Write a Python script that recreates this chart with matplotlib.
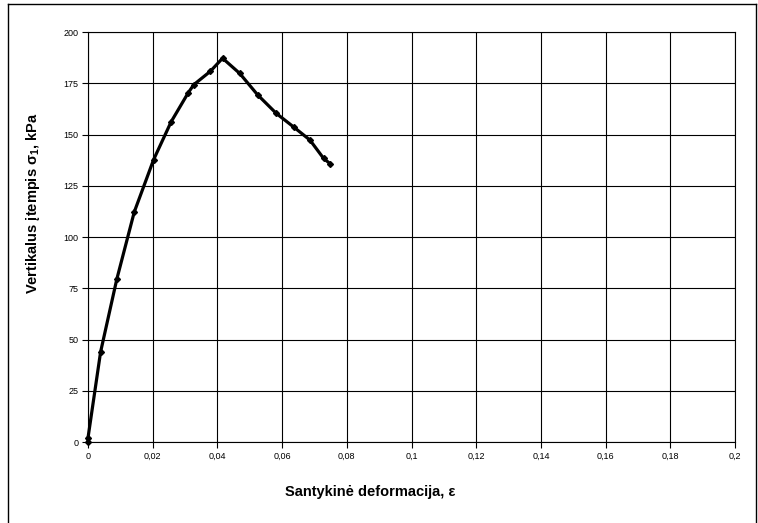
import matplotlib
matplotlib.use("Agg")
import matplotlib.pyplot as plt
from matplotlib.lines import Line2D
from matplotlib.ticker import FuncFormatter

plt.rcParams['font.family'] = ['Liberation Sans', 'DejaVu Sans']
plt.rcParams['mathtext.fontset'] = 'custom'
plt.rcParams['mathtext.rm'] = 'Liberation Sans'
plt.rcParams['mathtext.bf'] = 'Liberation Sans:bold'

strain = [0.0, 0.0, 0.0039, 0.0089, 0.0143, 0.0203, 0.0257, 0.0310, 0.0327,
          0.0378, 0.0416, 0.0469, 0.0524, 0.0582, 0.0637, 0.0686, 0.0728, 0.0748]
stress = [0.0, 2.0, 44.0, 79.4, 112.2, 137.8, 156.2, 170.4, 174.3,
          180.8, 187.2, 179.8, 169.4, 160.3, 153.5, 147.3, 138.4, 135.8]

x_ticks = [0, 0.02, 0.04, 0.06, 0.08, 0.1, 0.12, 0.14, 0.16, 0.18, 0.2]
y_ticks = [0, 25, 50, 75, 100, 125, 150, 175, 200]

x_label = "Santykinė deformacija, ε"
y_label = "Vertikalus įtempis σ$_\\mathbf{1}$, kPa"

fig = plt.figure(figsize=(7.58, 5.23), dpi=100)
ax = fig.add_axes([88/758, 1-442/523, (735-88)/758, (442-32)/523])

ax.plot(strain, stress, color='black', linewidth=2.3, marker='D', markersize=3,
        markerfacecolor='black', markeredgecolor='black', solid_joinstyle='round',
        clip_on=False, zorder=3)

ax.set_xlim(0, 0.2)
ax.set_ylim(0, 200)
ax.set_xticks(x_ticks)
ax.set_yticks(y_ticks)
ax.xaxis.set_major_formatter(FuncFormatter(lambda v, p: ('%g' % round(v, 4)).replace('.', ',')))
ax.yaxis.set_major_formatter(FuncFormatter(lambda v, p: '%d' % v))
ax.grid(True, color='black', linewidth=0.8)
ax.set_axisbelow(True)
for s in ax.spines.values():
    s.set_color('black')
    s.set_linewidth(0.8)
ax.tick_params(axis='both', direction='out', length=4, width=0.8, colors='black',
               labelsize=6.5, pad=3)

fig.text(370/758, 1-492/523, x_label, ha='center', va='center',
         fontsize=10.5, fontweight='bold')
fig.text(33/758, 1-203/523, y_label, ha='center', va='center', rotation=90,
         fontsize=10.5, fontweight='bold')

# outer border
W, H = 758, 523
fig.add_artist(Line2D([8/W, 8/W], [0, 1-4/H], color='black', linewidth=1.0, transform=fig.transFigure))
fig.add_artist(Line2D([8/W, 756/W], [1-4/H, 1-4/H], color='black', linewidth=1.0, transform=fig.transFigure))
fig.add_artist(Line2D([756/W, 756/W], [0, 1-4/H], color='black', linewidth=1.0, transform=fig.transFigure))

fig.savefig('out.png', dpi=100)
